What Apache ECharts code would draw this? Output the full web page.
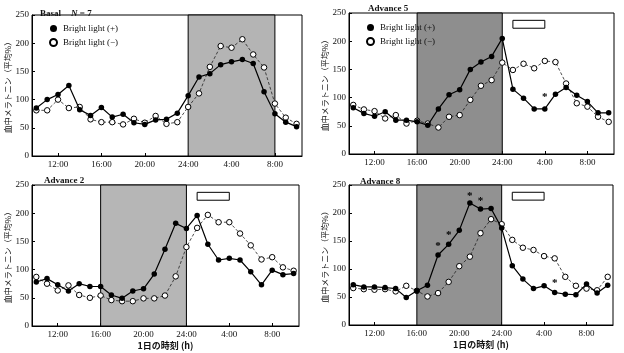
<!DOCTYPE html>
<html>
<head>
<meta charset="utf-8">
<script src="https://cdn.jsdelivr.net/npm/echarts@6/dist/echarts.min.js"></script>
<style>
  html, body { margin: 0; padding: 0; background: #fff; }
  #chart { width: 624px; height: 353px; }
</style>
</head>
<body>
<div id="chart"></div>
<script>
// hour of day, 10:00 -> 10:00 next day (24 = midnight)
const hours = [10, 11, 12, 13, 14, 15, 16, 17, 18, 19, 20, 21, 22, 23, 24, 25, 26, 27, 28, 29, 30, 31, 32, 33, 34];
const tickHours = [12, 16, 20, 24, 28, 32];

// melatonin (mean %), bright light (+) / (-)
const basalOn  = [85, 100, 109, 125, 82, 72, 86, 69, 74, 59, 56, 64, 65, 76, 107, 140, 146, 162, 167, 171, 164, 114, 75, 60, 52];
const basalOff = [81, 81, 100, 85, 87, 65, 60, 60, 56, 66, 59, 71, 57, 60, 87, 111, 158, 195, 192, 207, 180, 157, 93, 68, 57];
const adv5On   = [82, 72, 67, 75, 60, 60, 57, 51, 80, 105, 114, 150, 163, 173, 205, 115, 99, 80, 80, 106, 118, 104, 93, 73, 73];
const adv5Off  = [87, 79, 76, 63, 69, 54, 59, 54, 47, 66, 69, 96, 121, 131, 162, 149, 160, 152, 165, 163, 125, 90, 84, 66, 57];
const adv2On   = [78, 84, 73, 62, 75, 70, 70, 55, 49, 62, 66, 92, 136, 182, 173, 196, 145, 117, 120, 117, 96, 73, 99, 91, 93];
const adv2Off  = [87, 75, 63, 72, 55, 50, 54, 46, 44, 44, 49, 49, 54, 88, 140, 174, 197, 184, 184, 164, 143, 118, 122, 104, 98];
const adv8On   = [72, 68, 68, 67, 65, 49, 61, 71, 125, 144, 169, 218, 207, 208, 173, 106, 82, 65, 70, 58, 55, 54, 73, 57, 71];
const adv8Off  = [66, 64, 63, 64, 60, 70, 61, 51, 57, 77, 105, 122, 164, 189, 180, 152, 138, 134, 123, 119, 86, 70, 65, 62, 86];

// dark period (hours) and the open bar (hours, value range)
const darkBasal = [24, 32];
const darkAdv   = [16, 24];
const openBar   = [25, 28, 223, 237];

// significance marks [hour, value]
const starsAdv5 = [[28, 106]];
const starsAdv8 = [[18, 147], [19, 166], [21, 236], [22, 226], [29, 80]];

const titles = ['Basal', 'Advance 5', 'Advance 2', 'Advance 8'];
const onSets  = [basalOn, adv5On, adv2On, adv8On];
const offSets = [basalOff, adv5Off, adv2Off, adv8Off];

const serif = '"Liberation Serif", "DejaVu Serif", serif';
const jp = '"Noto Sans CJK JP", sans-serif';

const grids = [
    {left: 32, top: 15, width: 270, height: 141},
    {left: 349, top: 13, width: 265, height: 141},
    {left: 32, top: 185, width: 267, height: 141},
    {left: 349, top: 185, width: 264, height: 140}
];
const shadeColors = ['#b4b4b4', '#8e8e8e', '#b6b6b6', '#929292'];

function pts(vals) {
    return hours.map((h, i) => [h, vals[i]]);
}

function hourLabel(v) {
    let h = v > 24 ? v - 24 : v;
    return h + ':00';
}

let xAxes = [], yAxes = [], series = [];
for (let i = 0; i < 4; i++) {
    xAxes.push({
        type: 'value', gridIndex: i, min: 9.6, max: 34.5,
        axisLine: {lineStyle: {color: '#000', width: 1}},
        axisTick: {show: true, inside: true, length: 3, customValues: tickHours, lineStyle: {color: '#000'}},
        axisLabel: {customValues: tickHours, formatter: hourLabel, color: '#111', fontFamily: serif, fontSize: 9, margin: 4},
        splitLine: {show: false},
        name: i >= 2 ? '1日の時刻 (h)' : '',
        nameLocation: 'middle', nameGap: 15,
        nameTextStyle: {fontFamily: jp, fontSize: 9, color: '#111', fontWeight: 'bold'}
    });
    yAxes.push({
        type: 'value', gridIndex: i, min: 0, max: 250, interval: 50,
        axisLine: {show: true, lineStyle: {color: '#000', width: 1}},
        axisTick: {show: true, inside: true, length: 3, lineStyle: {color: '#000'}},
        axisLabel: {color: '#111', fontFamily: serif, fontSize: 9, margin: 3},
        splitLine: {show: false},
        name: '血中メラトニン（平均%）',
        nameLocation: 'middle', nameGap: i % 2 ? 13 : 18,
        nameTextStyle: {fontFamily: jp, fontSize: 8, color: '#111'}
    });

    let dark = i === 0 ? darkBasal : darkAdv;
    let areas = [[
        {xAxis: dark[0], itemStyle: {color: shadeColors[i], borderColor: '#000', borderWidth: 1}},
        {xAxis: dark[1]}
    ]];
    if (i > 0) {
        areas.push([
            {xAxis: openBar[0], yAxis: openBar[2], itemStyle: {color: '#fff', borderColor: '#000', borderWidth: 1}},
            {xAxis: openBar[1], yAxis: openBar[3]}
        ]);
    }
    let stars = i === 1 ? starsAdv5 : (i === 3 ? starsAdv8 : []);

    series.push({
        name: 'Bright light (−)',
        type: 'line', xAxisIndex: i, yAxisIndex: i,
        data: pts(offSets[i]),
        symbol: 'circle', symbolSize: 5.5,
        itemStyle: {color: '#fff', borderColor: '#000', borderWidth: 1},
        lineStyle: {color: '#222', width: 0.8, type: [3, 2]},
        z: 3,
        markArea: {silent: true, data: areas}
    });
    series.push({
        name: 'Bright light (+)',
        type: 'line', xAxisIndex: i, yAxisIndex: i,
        data: pts(onSets[i]),
        symbol: 'circle', symbolSize: 5.5,
        itemStyle: {color: '#000', borderColor: '#000', borderWidth: 0},
        lineStyle: {color: '#000', width: 1.2},
        z: 4,
        markPoint: {
            silent: true, symbol: 'circle', symbolSize: 0,
            label: {show: true, formatter: '*', color: '#000', fontSize: 11, fontWeight: 'bold', fontFamily: serif, offset: [0, 3]},
            data: stars.map(s => ({coord: s}))
        }
    });
}

const chart = echarts.init(document.getElementById('chart'));
chart.setOption({
    backgroundColor: '#fff',
    animation: false,
    title: [
        {text: '{b|Basal}  {i|N}{b| = 7}', left: 35, top: 0,
            textStyle: {rich: {b: {fontFamily: serif, fontSize: 9, fontWeight: 'bold', color: '#111'},
                i: {fontFamily: serif, fontSize: 9, fontStyle: 'italic', fontWeight: 'bold', color: '#111'}}}},
        {text: titles[1], left: 363, top: -1, textStyle: {fontFamily: serif, fontSize: 9, fontWeight: 'bold', color: '#111'}},
        {text: titles[2], left: 39, top: 171, textStyle: {fontFamily: serif, fontSize: 9, fontWeight: 'bold', color: '#111'}},
        {text: titles[3], left: 355, top: 172, textStyle: {fontFamily: serif, fontSize: 9, fontWeight: 'bold', color: '#111'}}
    ],
    legend: [
        {left: 44, top: 19, orient: 'vertical', itemGap: 5, itemWidth: 7, itemHeight: 7, icon: 'circle',
            selectedMode: false, data: ['Bright light (+)', 'Bright light (−)'],
            textStyle: {fontFamily: serif, fontSize: 9, color: '#111', padding: [0, 0, 0, 1]}},
        {left: 361, top: 18, orient: 'vertical', itemGap: 5, itemWidth: 7, itemHeight: 7, icon: 'circle',
            selectedMode: false, data: ['Bright light (+)', 'Bright light (−)'],
            textStyle: {fontFamily: serif, fontSize: 9, color: '#111', padding: [0, 0, 0, 1]}}
    ],
    grid: grids.map(g => Object.assign({show: true, borderColor: '#000', borderWidth: 1, backgroundColor: 'transparent'}, g)),
    xAxis: xAxes,
    yAxis: yAxes,
    series: series
});
</script>
</body>
</html>
